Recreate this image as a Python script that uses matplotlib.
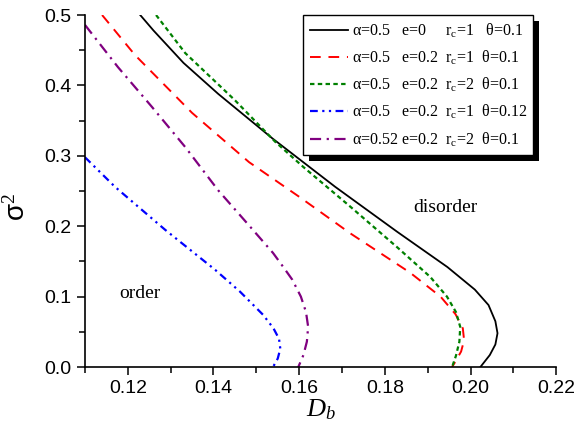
import matplotlib
matplotlib.use("Agg")
import matplotlib.pyplot as plt
import matplotlib.patches as mpatches
from matplotlib.ticker import MultipleLocator, FormatStrFormatter

plt.rcParams['mathtext.fontset'] = 'custom'
plt.rcParams['mathtext.rm'] = 'Liberation Serif'
plt.rcParams['mathtext.it'] = 'Liberation Serif:italic'
plt.rcParams['font.family'] = ['Liberation Sans', 'DejaVu Sans']

# curves (D_b, sigma^2)
db_black = [0.1229, 0.1260, 0.1330, 0.1411, 0.1537, 0.1684, 0.1829, 0.1946, 0.2010,
            0.2042, 0.2058, 0.2063, 0.2058, 0.2045, 0.2023]
s2_black = [0.500, 0.478, 0.432, 0.388, 0.325, 0.256, 0.192, 0.142, 0.110,
            0.088, 0.065, 0.048, 0.032, 0.017, 0.0]

db_red = [0.1140, 0.1217, 0.1350, 0.1483, 0.1602, 0.1719, 0.1859, 0.1930, 0.1965,
          0.1982, 0.1985, 0.1978, 0.1965, 0.1957]
s2_red = [0.500, 0.443, 0.361, 0.291, 0.241, 0.190, 0.134, 0.100, 0.075,
          0.055, 0.038, 0.022, 0.008, 0.0]

db_green = [0.1266, 0.1334, 0.1450, 0.1544, 0.1610, 0.1719, 0.1829, 0.1906, 0.1945,
            0.1966, 0.1976, 0.1974, 0.1966, 0.1957]
s2_green = [0.500, 0.446, 0.379, 0.320, 0.284, 0.228, 0.170, 0.128, 0.100,
            0.078, 0.057, 0.036, 0.016, 0.0]

db_blue = [0.1100, 0.1170, 0.1287, 0.1404, 0.1462, 0.1516, 0.1540, 0.1553, 0.1556,
           0.1550, 0.1539]
s2_blue = [0.298, 0.256, 0.195, 0.138, 0.107, 0.074, 0.055, 0.040, 0.026, 0.012, 0.0]

db_purple = [0.1100, 0.1177, 0.1257, 0.1334, 0.1411, 0.1486, 0.1539, 0.1563, 0.1584,
             0.1604, 0.1616, 0.1621, 0.1618, 0.1610, 0.1598]
s2_purple = [0.486, 0.426, 0.369, 0.3125, 0.251, 0.199, 0.162, 0.142, 0.124,
             0.100, 0.078, 0.057, 0.036, 0.017, 0.0]

labels = [
    'α=0.5   e=0     r$_{\\rm c}$=1   θ=0.1',
    'α=0.5   e=0.2  r$_{\\rm c}$=1  θ=0.1',
    'α=0.5   e=0.2  r$_{\\rm c}$=2  θ=0.1',
    'α=0.5   e=0.2  r$_{\\rm c}$=1  θ=0.12',
    'α=0.52 e=0.2  r$_{\\rm c}$=2  θ=0.1',
]

fig = plt.figure(figsize=(5.74, 4.29), dpi=100)
ax = fig.add_axes([0.148, 0.1445, 0.821, 0.8205])

ax.plot(db_black, s2_black, color='black', lw=1.3, label=labels[0])
ax.plot(db_red, s2_red, color='red', lw=1.4, dashes=(5.5, 4), label=labels[1])
ax.plot(db_green, s2_green, color='green', lw=1.6, dashes=(2, 1.5), label=labels[2])
ax.plot(db_blue, s2_blue, color='blue', lw=1.6, dashes=(3.5, 2, 1, 2, 1, 2), label=labels[3])
ax.plot(db_purple, s2_purple, color='purple', lw=1.6, dashes=(5, 2.5, 1, 2.5), label=labels[4])

ax.set_xlim(0.11, 0.22)
ax.set_ylim(0.0, 0.5)
ax.xaxis.set_major_locator(MultipleLocator(0.02))
ax.xaxis.set_minor_locator(MultipleLocator(0.01))
ax.yaxis.set_major_locator(MultipleLocator(0.1))
ax.yaxis.set_minor_locator(MultipleLocator(0.05))
ax.xaxis.set_major_formatter(FormatStrFormatter('%.2f'))
ax.yaxis.set_major_formatter(FormatStrFormatter('%.1f'))

ax.spines['top'].set_visible(False)
ax.spines['right'].set_visible(False)
for s in ['left', 'bottom']:
    ax.spines[s].set_linewidth(1.2)
ax.tick_params(which='major', direction='out', length=6, width=1.1, labelsize=14)
ax.tick_params(which='minor', direction='out', length=4, width=1.1)

ax.set_xlabel(r'$D_b$', fontsize=19, labelpad=0)
ax.set_ylabel(r'$\mathregular{\sigma}$$^2$', fontsize=20)
ax.yaxis.set_label_coords(-0.115, 0.455)

ax.text(0.1229, 0.105, 'order', family='Liberation Serif', fontsize=14, ha='center', va='center')
ax.text(0.1941, 0.227, 'disorder', family='Liberation Serif', fontsize=14, ha='center', va='center')

leg = ax.legend(loc='upper left', bbox_to_anchor=(0.463, 1.0), borderaxespad=0,
                fancybox=False, framealpha=1, edgecolor='black', handlelength=2.4,
                handletextpad=0.25, labelspacing=0.55, borderpad=0.4,
                prop={'family': 'Liberation Serif', 'size': 11.5})
leg.get_frame().set_linewidth(1.0)

# solid black drop shadow behind the legend
fig.canvas.draw()
bb = leg.get_window_extent()
shadow = mpatches.Rectangle((bb.x0 + 6, bb.y0 - 6), bb.width, bb.height,
                            transform=None, facecolor='black', edgecolor='none',
                            zorder=4.9, clip_on=False)
ax.add_artist(shadow)
leg.set_zorder(5)

fig.savefig('out.png', dpi=100)
